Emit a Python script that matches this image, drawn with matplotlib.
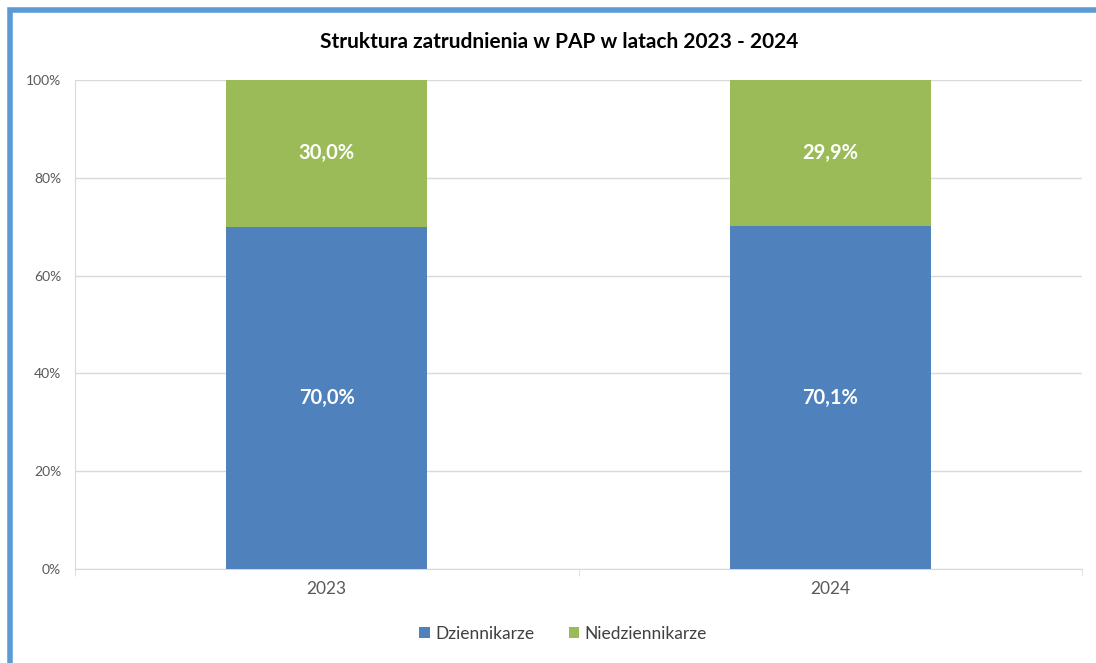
import matplotlib.pyplot as plt
from matplotlib.patches import Rectangle
from matplotlib.ticker import PercentFormatter

years = ['2023', '2024']
dziennikarze = [70.0, 70.1]
niedziennikarze = [30.0, 29.9]

plt.rcParams['font.family'] = ['Lato', 'DejaVu Sans']

fig = plt.figure(figsize=(10.96, 6.63), dpi=100)
ax = fig.add_axes([75 / 1096, 1 - 569 / 663, 1007 / 1096, 489 / 663])

x = range(len(years))
b1 = ax.bar(x, dziennikarze, width=0.4, color='#4F81BD', label='Dziennikarze', zorder=3)
b2 = ax.bar(x, niedziennikarze, width=0.4, bottom=dziennikarze, color='#9BBB59',
            label='Niedziennikarze', zorder=3)

for bars, vals in ((b1, dziennikarze), (b2, niedziennikarze)):
    for r, v in zip(bars, vals):
        ax.text(r.get_x() + r.get_width() / 2, r.get_y() + r.get_height() / 2,
                f'{v:.1f}%'.replace('.', ','), ha='center', va='center',
                color='white', fontsize=14.5, fontweight='bold', zorder=4)

ax.set_xlim(-0.5, 1.5)
ax.set_ylim(0, 100)
ax.set_yticks(range(0, 101, 20))
ax.yaxis.set_major_formatter(PercentFormatter(decimals=0))
ax.set_xticks(list(x))
ax.set_xticklabels(years)
ax.set_xticks([-0.5, 0.5, 1.5], minor=True)
ax.tick_params(axis='x', which='major', length=0, pad=9, labelsize=12.5, colors='#595959')
ax.tick_params(axis='x', which='minor', length=5, color='#D9D9D9')
ax.tick_params(axis='y', length=0, pad=10, labelsize=10, colors='#595959')
ax.grid(axis='y', color='#D9D9D9', linewidth=1, zorder=0)
for s in ['top', 'right']:
    ax.spines[s].set_visible(False)
for s in ['left', 'bottom']:
    ax.spines[s].set_color('#D9D9D9')

fig.text(559 / 1096, 1 - 42 / 663, 'Struktura zatrudnienia w PAP w latach 2023 - 2024',
         ha='center', va='center', fontsize=15, fontweight='bold', color='#000000')

fig.legend(handles=[b1, b2], loc='center', bbox_to_anchor=(563 / 1096, 1 - 634 / 663),
           ncol=2, frameon=False, fontsize=12.5, handlelength=0.6, handleheight=0.6,
           handletextpad=0.3, columnspacing=2.0, labelcolor='#404040')

# border of the chart frame
fig.patches.append(Rectangle((10 / 1096, -0.1), 1.2, 1 - 10 / 663 + 0.1,
                             transform=fig.transFigure, fill=False,
                             edgecolor='#5B9BD5', linewidth=4))

fig.savefig('out.png', dpi=100)
